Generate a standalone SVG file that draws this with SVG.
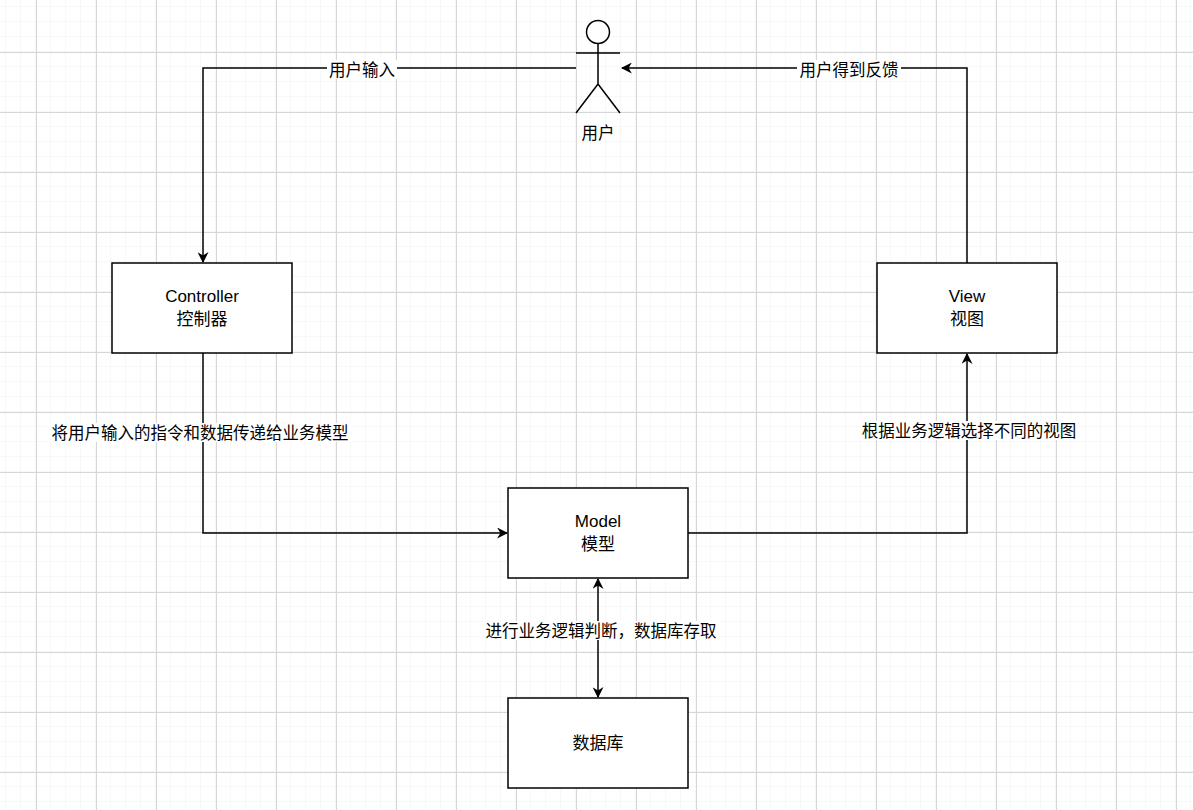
<svg xmlns="http://www.w3.org/2000/svg" width="1193" height="810" viewBox="0 0 1193 810">
<defs>
<pattern id="minor" x="6" y="7" width="15" height="15" patternUnits="userSpaceOnUse"><path d="M15 0V15M0 15H15" fill="none" stroke="#f0f0f0" stroke-width="1"/></pattern>
<pattern id="major" x="36" y="52" width="60" height="60" patternUnits="userSpaceOnUse"><path d="M0.5 0V60M0 0.5H60" fill="none" stroke="#d6d6d6" stroke-width="1"/></pattern>
<marker id="arr" viewBox="0 0 10 10" refX="9" refY="5" markerWidth="11" markerHeight="11" markerUnits="userSpaceOnUse" orient="auto-start-reverse"><path d="M0 0L10 5L0 10L3 5Z" fill="#000"/></marker>
</defs>
<style>
text{font-family:"Liberation Sans","Noto Sans CJK SC",sans-serif;font-size:16.5px;fill:#000;text-anchor:middle}
.bt{font-size:17px}
.box{fill:#fff;stroke:#000;stroke-width:1.5}
.e{fill:none;stroke:#000;stroke-width:1.5}
.lb{fill:#fff}
</style>
<rect width="1193" height="810" fill="#fff"/>
<rect width="1193" height="810" fill="url(#minor)"/>
<rect width="1193" height="810" fill="url(#major)"/>
<g id="connectors">
<path class="e" d="M576 68H203V262" marker-end="url(#arr)"/>
<rect class="lb" x="327" y="60" width="70" height="19"/><text x="362" y="76">用户输入</text>
<path class="e" d="M967 263V68H622" marker-end="url(#arr)"/>
<rect class="lb" x="797" y="60" width="104" height="19"/><text x="849" y="76">用户得到反馈</text>
<path class="e" d="M203 353V533H507" marker-end="url(#arr)"/>
<rect class="lb" x="48" y="423" width="304" height="19"/><text x="200" y="439">将用户输入的指令和数据传递给业务模型</text>
<path class="e" d="M688 533H967V354" marker-end="url(#arr)"/>
<rect class="lb" x="860" y="421" width="218" height="19"/><text x="969" y="437">根据业务逻辑选择不同的视图</text>
<path class="e" d="M598 579V697" marker-start="url(#arr)" marker-end="url(#arr)"/>
<rect class="lb" x="484" y="621" width="234" height="19"/><text x="601" y="637">进行业务逻辑判断，数据库存取</text>
</g>
<g id="user" fill="none" stroke="#000" stroke-width="1.5">
<circle cx="598" cy="32" r="11.5" fill="#fff"/>
<path d="M598 44V84M576 53H620M576 113L598 84L620 113"/>
<text x="598" y="139" stroke="none">用户</text>
</g>
<g id="controller"><rect class="box" x="112" y="263" width="180" height="90"/><text class="bt" x="202" y="302">Controller</text><text class="bt" x="202" y="325">控制器</text></g>
<g id="view"><rect class="box" x="877" y="263" width="180" height="90"/><text class="bt" x="967" y="302">View</text><text class="bt" x="967" y="325">视图</text></g>
<g id="model"><rect class="box" x="508" y="488" width="180" height="90"/><text class="bt" x="598" y="527">Model</text><text class="bt" x="598" y="550">模型</text></g>
<g id="db"><rect class="box" x="508" y="698" width="180" height="90"/><text class="bt" x="598" y="749">数据库</text></g>
</svg>
